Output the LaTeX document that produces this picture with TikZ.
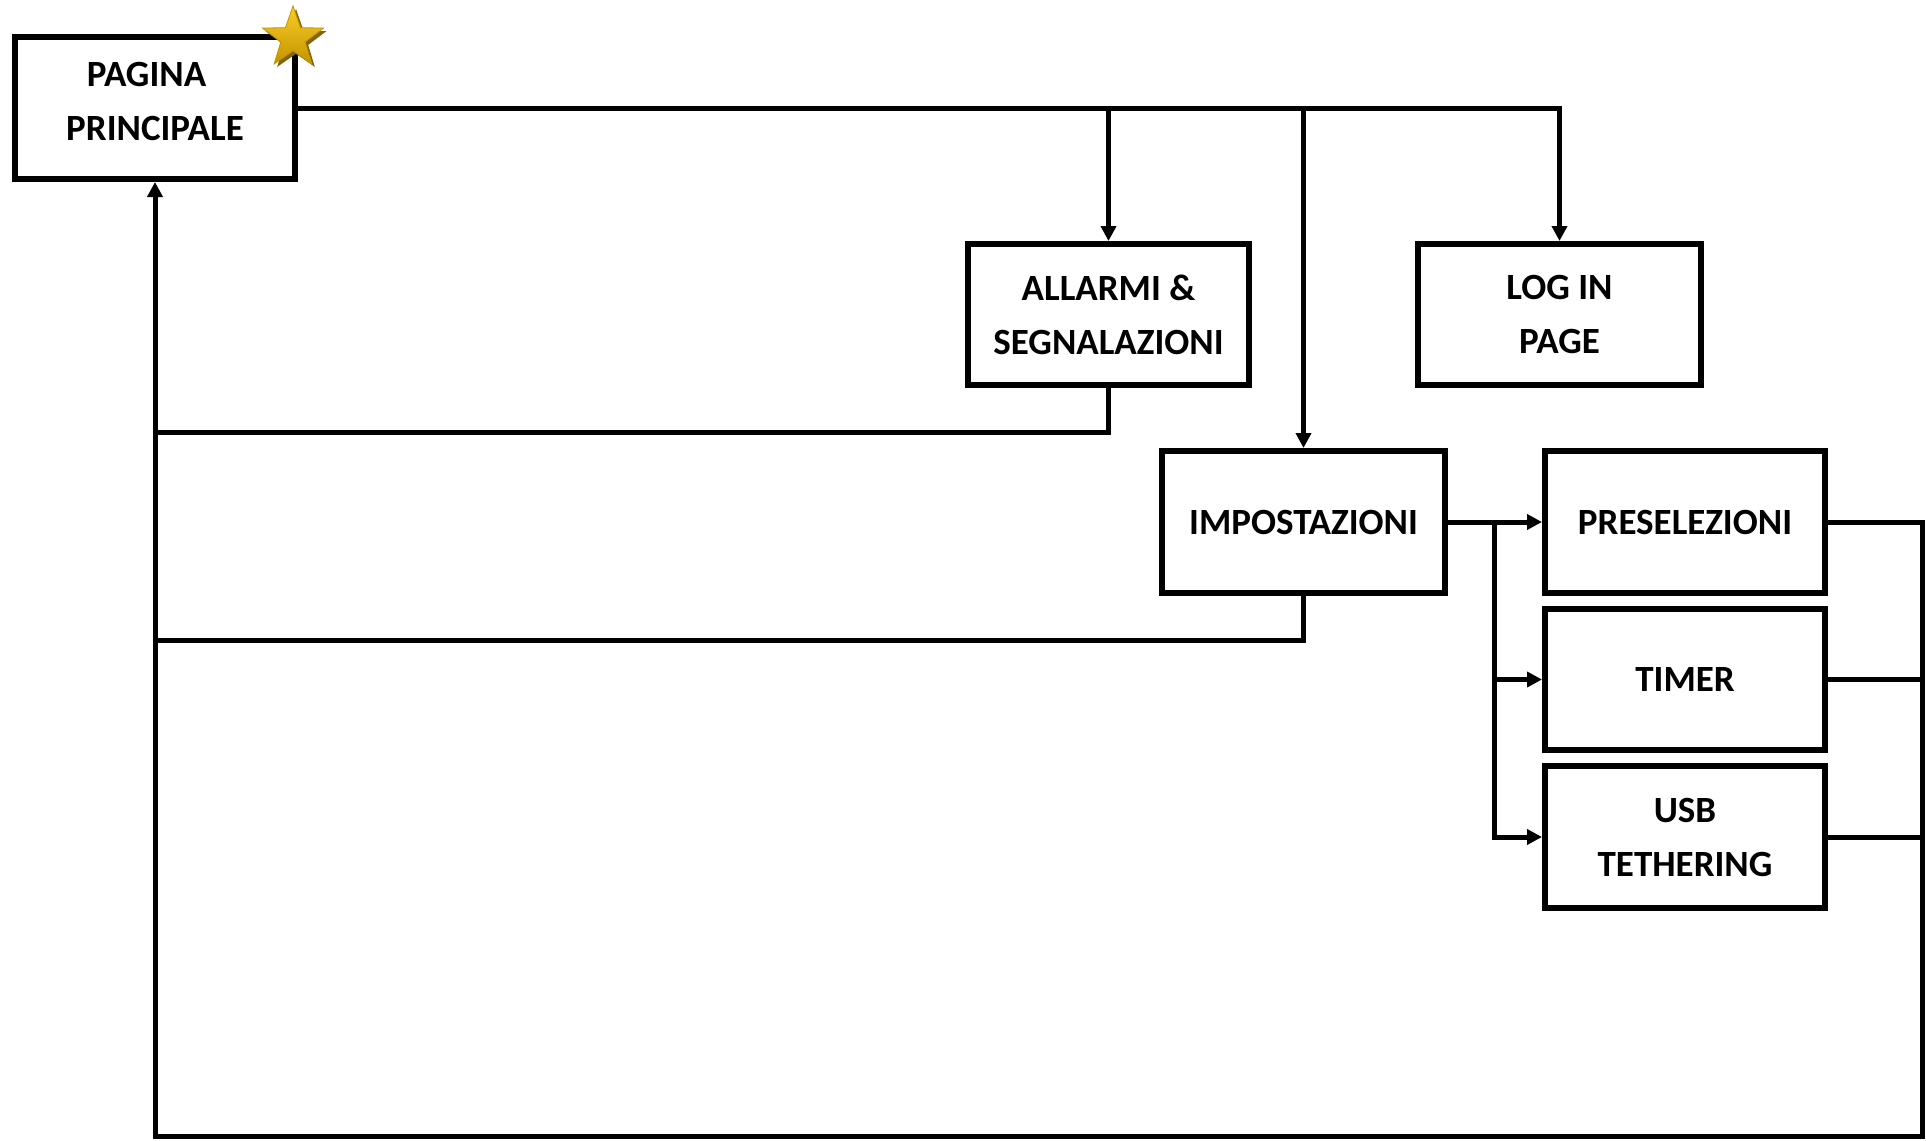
\documentclass[tikz,border=0pt]{standalone}
\usepackage{fontspec}
\setmainfont{Carlito}
\usetikzlibrary{arrows.meta,shapes.geometric}
\definecolor{goldA}{RGB}{250,205,40}
\definecolor{goldB}{RGB}{196,148,0}
\definecolor{goldS}{RGB}{130,100,10}
\tikzset{
  box/.style={draw=black,line width=6pt,fill=white,align=center,inner sep=0pt,
    font=\fontsize{37}{54}\selectfont\bfseries,text=black},
  conn/.style={line width=5pt,line join=miter,draw=black},
  arr/.style={conn,-{Triangle[length=15pt,width=15pt]}},
  starshape/.style={star,star points=5,star point ratio=2.5,minimum size=64pt,inner sep=0pt}
}
\begin{document}
\begin{tikzpicture}[x=1pt,y=-1pt]
\useasboundingbox (0,0) rectangle (1926,1140);
\fill[white] (0,0) rectangle (1926,1140);

\coordinate (ya) at (0,432);
\coordinate (yb) at (0,640);
\coordinate (rx) at (1922,1136);

\node[box,minimum width=280pt,minimum height=142pt,text depth=14pt] (pp) at (155,108) {PAGINA\hspace*{17pt}\\PRINCIPALE};
\node[box,minimum width=281pt,minimum height=141pt,text depth=0pt] (all) at (1108.5,314.5) {ALLARMI \&\\SEGNALAZIONI};
\node[box,minimum width=283pt,minimum height=141pt,text depth=0pt] (login) at (1559.5,314.5) {LOG IN\\PAGE};
\node[box,minimum width=283pt,minimum height=142pt] (imp) at (1303.5,522) {IMPOSTAZIONI};
\node[box,minimum width=280pt,minimum height=142pt] (pre) at (1685,522) {PRESELEZIONI};
\node[box,minimum width=280pt,minimum height=141pt] (tim) at (1685,679.5) {TIMER};
\node[box,minimum width=280pt,minimum height=142pt,text depth=0pt] (usb) at (1685,837) {USB\\TETHERING};

\node[starshape,fill=goldS] (starsh) at (296,41) {};
\node[starshape,top color=goldA,bottom color=goldB,draw=goldB,line width=0.8pt] (starm) at (293,38) {};

% from main page
\draw[arr] (pp.east) -| (login.north);
\draw[arr] (pp.east -| all.north) -- (all.north);
\draw[arr] (pp.east -| imp.north) -- (imp.north);

% settings branches
\coordinate (bx) at (1494,522);
\draw[arr] (imp.east) -- (pre.west);
\draw[arr] (bx) |- (tim.west);
\draw[arr] (bx) |- (usb.west);

% returns
\draw[conn] (all.south) |- (pp.south |- ya);
\draw[conn] (imp.south) |- (pp.south |- yb);
\draw[conn] (tim.east) -- (tim.east -| rx);
\draw[conn] (usb.east) -- (usb.east -| rx);
\draw[arr] (pre.east) -| (rx) -- (pp.south |- rx) -- (pp.south);
\end{tikzpicture}
\end{document}
